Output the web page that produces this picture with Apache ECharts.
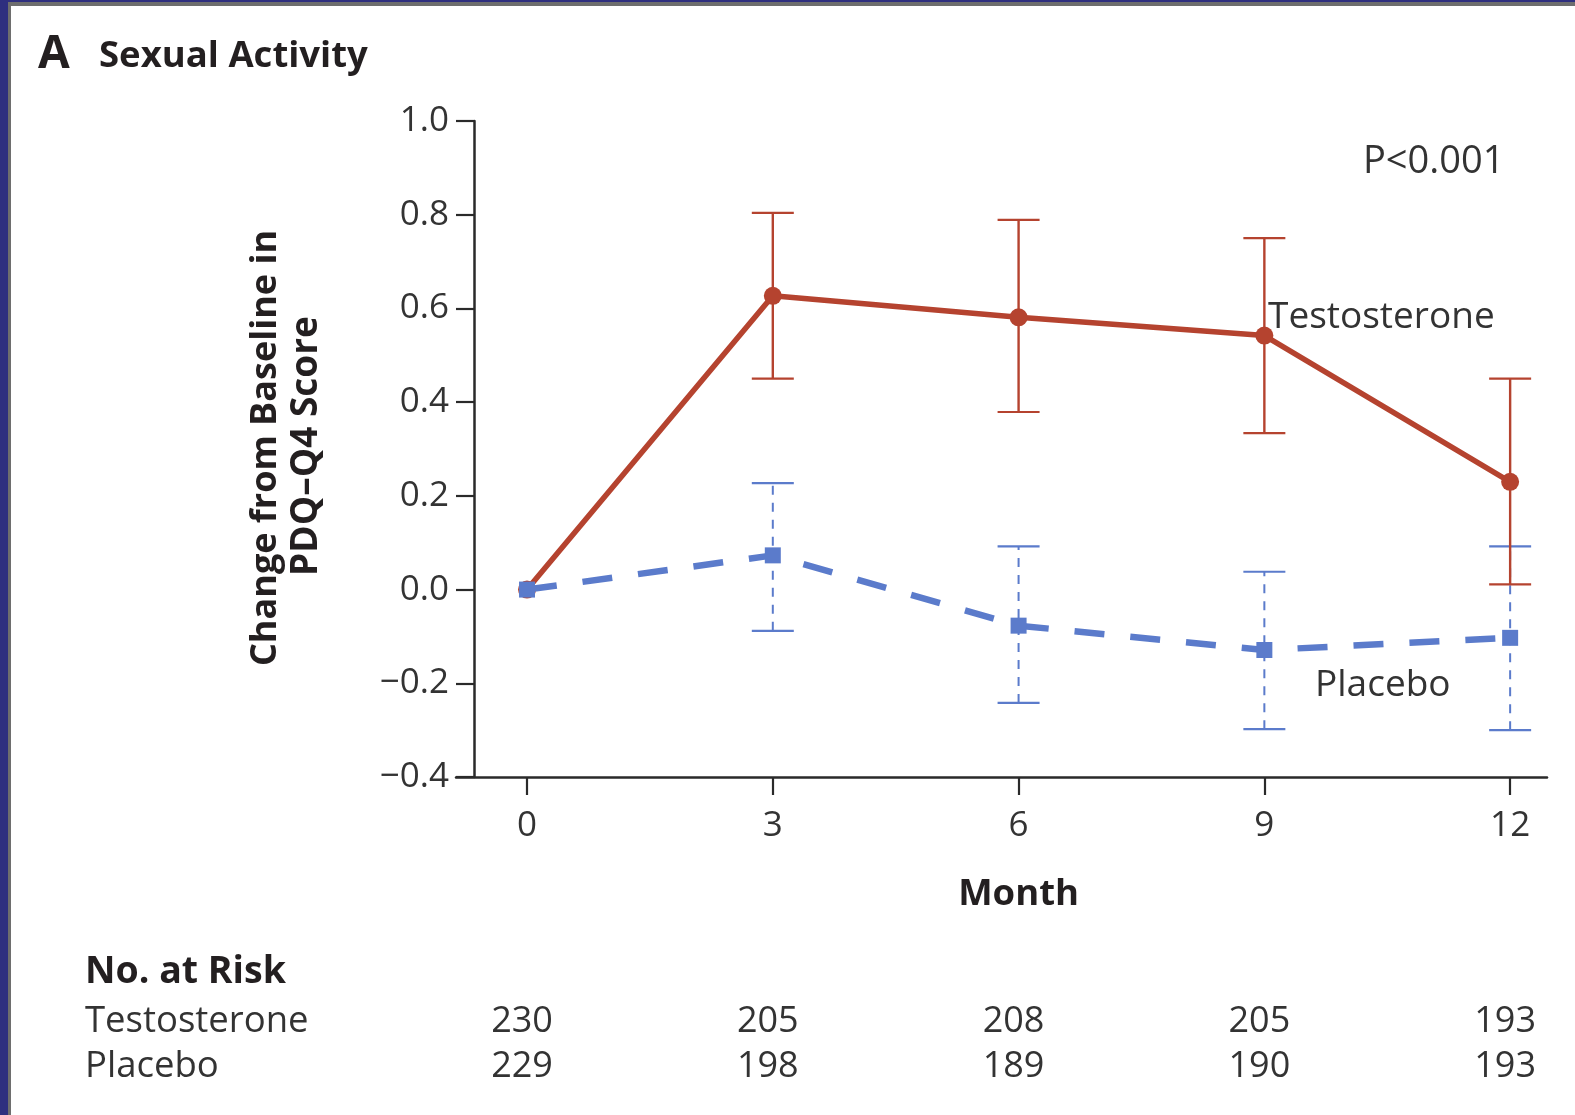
<!DOCTYPE html>
<html>
<head>
<meta charset="utf-8">
<script src="https://cdn.jsdelivr.net/npm/echarts@6/dist/echarts.min.js"></script>
<style>
  html, body { margin: 0; padding: 0; background: #ffffff; }
  #chart { width: 1575px; height: 1115px; }
</style>
</head>
<body>
<div id="chart"></div>
<script>
// Months of follow-up
const months = [0, 3, 6, 9, 12];
const monthTicks = [0, 3, 6, 9, 12];

// Mean change from baseline in PDQ-Q4 score, with 95% CI bounds
const testosteroneMean = [0, 0.627, 0.581, 0.542, 0.230];
const testosteroneLow  = [null, 0.450, 0.379, 0.334, 0.011];
const testosteroneHigh = [null, 0.804, 0.789, 0.750, 0.450];

const placeboMean = [0, 0.073, -0.077, -0.129, -0.103];
const placeboLow  = [null, -0.088, -0.242, -0.298, -0.300];
const placeboHigh = [null, 0.227, 0.092, 0.038, 0.092];

// Numbers at risk
const riskTestosterone = [230, 205, 208, 205, 193];
const riskPlacebo      = [229, 198, 189, 190, 193];

const FONT = '"Open Sans", "Noto Sans", sans-serif';
const RED = '#b5432f';
const BLUE = '#5b7bcb';
const INK = '#231f20';

const chart = echarts.init(document.getElementById('chart'), null, { renderer: 'canvas' });

function pairs(xs, ys) { return xs.map((x, i) => [x, ys[i]]); }
function ciRows(xs, lo, hi) {
  return xs.map((x, i) => [x, lo[i], hi[i]]).filter(r => r[1] !== null);
}

function errorBars(color, width, dash) {
  return function (params, api) {
    const x = api.value(0);
    const pLo = api.coord([x, api.value(1)]);
    const pHi = api.coord([x, api.value(2)]);
    const hw = 21;
    const cap = { stroke: color, lineWidth: 2.2 };
    return {
      type: 'group',
      children: [
        { type: 'line', shape: { x1: pLo[0], y1: pLo[1], x2: pHi[0], y2: pHi[1] },
          style: { stroke: color, lineWidth: width, lineDash: dash } },
        { type: 'line', shape: { x1: pLo[0] - hw, y1: pLo[1], x2: pLo[0] + hw, y2: pLo[1] }, style: cap },
        { type: 'line', shape: { x1: pHi[0] - hw, y1: pHi[1], x2: pHi[0] + hw, y2: pHi[1] }, style: cap }
      ]
    };
  };
}

chart.setOption({
  animation: false,
  backgroundColor: '#ffffff',
  grid: { left: 456, right: 28, top: 121, bottom: 338 },
  xAxis: {
    type: 'value',
    min: -0.867,
    max: 12.45,
    axisLine: { show: true, onZero: false, lineStyle: { color: '#2a2a2a', width: 2.5 } },
    axisTick: { show: true, customValues: monthTicks, length: 18, lineStyle: { color: '#2a2a2a', width: 2.2 } },
    axisLabel: { customValues: monthTicks, margin: 32, fontFamily: FONT, fontSize: 35, color: '#333333' },
    splitLine: { show: false }
  },
  yAxis: {
    type: 'value',
    min: -0.4,
    max: 1.0,
    interval: 0.2,
    offset: -18,
    axisLine: { show: true, onZero: false, lineStyle: { color: '#2a2a2a', width: 2.5 } },
    axisTick: { show: true, length: 18, lineStyle: { color: '#2a2a2a', width: 2.2 } },
    axisLabel: {
      margin: 25, fontFamily: FONT, fontSize: 35, color: '#333333',
      formatter: v => (v < 0 ? '\u2212' : '') + Math.abs(v).toFixed(1)
    },
    splitLine: { show: false }
  },
  series: [
    {
      name: 'Placebo CI', type: 'custom', z: 1,
      renderItem: errorBars(BLUE, 2, [9, 8]),
      data: ciRows(months, placeboLow, placeboHigh)
    },
    {
      name: 'Testosterone CI', type: 'custom', z: 2,
      renderItem: errorBars(RED, 2.4, null),
      data: ciRows(months, testosteroneLow, testosteroneHigh)
    },
    {
      name: 'Testosterone', type: 'line', z: 3,
      data: pairs(months, testosteroneMean),
      symbol: 'circle', symbolSize: 18,
      lineStyle: { color: RED, width: 5.5 },
      itemStyle: { color: RED }
    },
    {
      name: 'Placebo', type: 'line', z: 4,
      data: pairs(months, placeboMean),
      symbol: 'rect', symbolSize: 16,
      lineStyle: { color: BLUE, width: 6.5, type: [30, 26] },
      itemStyle: { color: BLUE }
    }
  ]
});

// Text and frame placed on top of the plotted chart
const px = m => chart.convertToPixel({ xAxisIndex: 0 }, m);
const graphics = [
  // frame along the left and top edge
  { type: 'rect', shape: { x: 0, y: 0, width: 8, height: 1115 }, style: { fill: '#2e2f7f' } },
  { type: 'rect', shape: { x: 0, y: 0, width: 1575, height: 2 }, style: { fill: '#2e2f7f' } },
  { type: 'rect', shape: { x: 8, y: 2, width: 3, height: 1113 }, style: { fill: '#6e6e6e' } },
  { type: 'rect', shape: { x: 8, y: 2, width: 1567, height: 4 }, style: { fill: '#6e6e6e' } },

  // panel title
  { type: 'text', x: 38, y: 55, style: { text: 'A', font: 'bold 46px ' + FONT, fill: INK, verticalAlign: 'middle' } },
  { type: 'text', x: 99, y: 57, style: { text: 'Sexual Activity', font: 'bold 36.5px ' + FONT, fill: INK, verticalAlign: 'middle' } },

  // y-axis title, two lines
  { type: 'text', x: 266, y: 448, rotation: Math.PI / 2,
    style: { text: 'Change from Baseline in', font: 'bold 36px ' + FONT, fill: INK, align: 'center', verticalAlign: 'middle' } },
  { type: 'text', x: 306, y: 446, rotation: Math.PI / 2,
    style: { text: 'PDQ\u2013Q4 Score', font: 'bold 37px ' + FONT, fill: INK, align: 'center', verticalAlign: 'middle' } },

  // x-axis title
  { type: 'text', x: px(6), y: 895,
    style: { text: 'Month', font: 'bold 36.5px ' + FONT, fill: INK, align: 'center', verticalAlign: 'middle' } },

  // annotations
  { type: 'text', x: 1363, y: 162, style: { text: 'P<0.001', font: '38px ' + FONT, fill: '#333333', verticalAlign: 'middle' } },
  { type: 'text', x: 1268, y: 317, style: { text: 'Testosterone', font: '37px ' + FONT, fill: '#333333', verticalAlign: 'middle' } },
  { type: 'text', x: 1315, y: 685, style: { text: 'Placebo', font: '37px ' + FONT, fill: '#333333', verticalAlign: 'middle' } },

  // numbers at risk
  { type: 'text', x: 85, y: 972, style: { text: 'No. at Risk', font: 'bold 37.5px ' + FONT, fill: INK, verticalAlign: 'middle' } },
  { type: 'text', x: 85, y: 1022, style: { text: 'Testosterone', font: '36.5px ' + FONT, fill: '#333333', verticalAlign: 'middle' } },
  { type: 'text', x: 85, y: 1067, style: { text: 'Placebo', font: '36.5px ' + FONT, fill: '#333333', verticalAlign: 'middle' } }
];
months.forEach((m, i) => {
  graphics.push({ type: 'text', x: px(m) - 5, y: 1022,
    style: { text: String(riskTestosterone[i]), font: '36px ' + FONT, fill: '#333333', align: 'center', verticalAlign: 'middle' } });
  graphics.push({ type: 'text', x: px(m) - 5, y: 1067,
    style: { text: String(riskPlacebo[i]), font: '36px ' + FONT, fill: '#333333', align: 'center', verticalAlign: 'middle' } });
});

chart.setOption({ graphic: graphics });
</script>
</body>
</html>
